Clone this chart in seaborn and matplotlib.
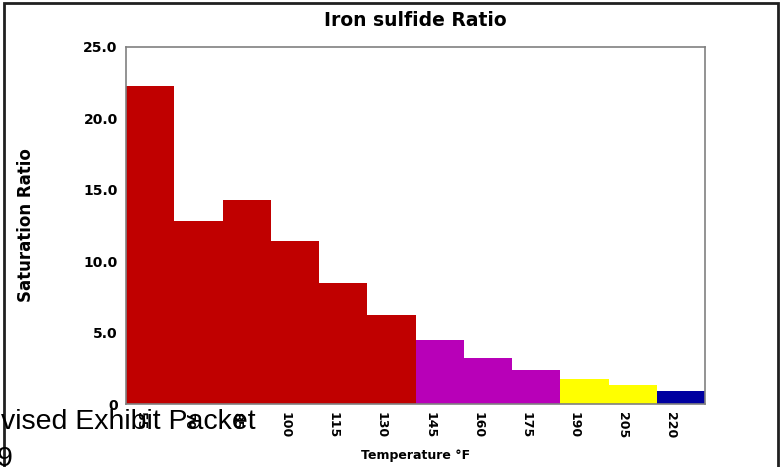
import pandas as pd
import numpy as np
import matplotlib
matplotlib.use("Agg")
import matplotlib.pyplot as plt
import matplotlib.transforms as mtransforms
from matplotlib.patches import Rectangle
import seaborn as sns

# chart values
temps = ["55", "70", "85", "100", "115", "130", "145", "160", "175", "190", "205", "220"]
ratios = [22.3, 12.8, 14.3, 11.4, 8.5, 6.2, 4.5, 3.25, 2.35, 1.75, 1.3, 0.9]
bar_colors = ["#C00000"] * 6 + ["#B800B8"] * 3 + ["#FFFF00"] * 2 + ["#0000A0"]
y_ticks = [0, 5, 10, 15, 20, 25]

data = pd.DataFrame({"temp": temps, "ratio": ratios})

sns.set_style("white")
plt.rcParams["font.family"] = ["DejaVu Sans"]
plt.rcParams["text.color"] = "black"
plt.rcParams["xtick.color"] = "black"
plt.rcParams["ytick.color"] = "black"
plt.rcParams["axes.labelcolor"] = "black"

fig = plt.figure(figsize=(7.81, 4.67), dpi=100)
ax = fig.add_axes([126 / 781, 63 / 467, 579 / 781, 357 / 467])

sns.barplot(data=data, x="temp", y="ratio", hue="temp", palette=bar_colors,
            legend=False, width=1.0, saturation=1, linewidth=0, ax=ax)

ax.set_xlim(-0.5, len(temps) - 0.5)
ax.set_ylim(0, 25)
ax.set_yticks(y_ticks)
ax.set_yticklabels(["0" if v == 0 else f"{v:.1f}" for v in y_ticks],
                   fontsize=10, fontweight="bold", color="black")
ax.tick_params(axis="y", length=3, width=1, color="#c0c0c0", pad=3)
ax.tick_params(axis="x", length=0, pad=6)
for lab in ax.get_xticklabels():
    lab.set_rotation(-90)
    lab.set_fontsize(9)
    lab.set_fontweight("bold")
    lab.set_color("black")
    lab.set_va("top")
    lab.set_ha("center")
    lab.set_transform(lab.get_transform() + mtransforms.ScaledTranslation(-0.1, 0, fig.dpi_scale_trans))

for s in ax.spines.values():
    s.set_visible(True)
    s.set_color("#808080")
    s.set_linewidth(1.2)

ax.set_title("Iron sulfide Ratio", fontsize=13.5, fontweight="bold", pad=15, color="black")
ax.set_xlabel("Temperature °F", fontsize=9, fontweight="bold")
ax.set_ylabel("Saturation Ratio", fontsize=12, fontweight="bold")
ax.xaxis.set_label_coords(0.5, -0.125)
ax.yaxis.set_label_coords(-0.157, 0.5)

# slide frame and leftover slide text around the chart
fig.patches.append(Rectangle((4 / 781, -0.1), 774 / 781, 1.1 - 3 / 467, transform=fig.transFigure,
                             fill=False, edgecolor="#202020", linewidth=2, zorder=0))
fig.text(1 / 781, 1 - 429 / 467, "vised Exhibit Packet", fontsize=20.5,
         family=["Liberation Sans", "DejaVu Sans"], va="baseline", ha="left")
fig.text(-3 / 781, 1 - 466 / 467, "9", fontsize=20.5,
         family=["Liberation Sans", "DejaVu Sans"], va="baseline", ha="left")

plt.savefig("out.png", dpi=100)
plt.close()
